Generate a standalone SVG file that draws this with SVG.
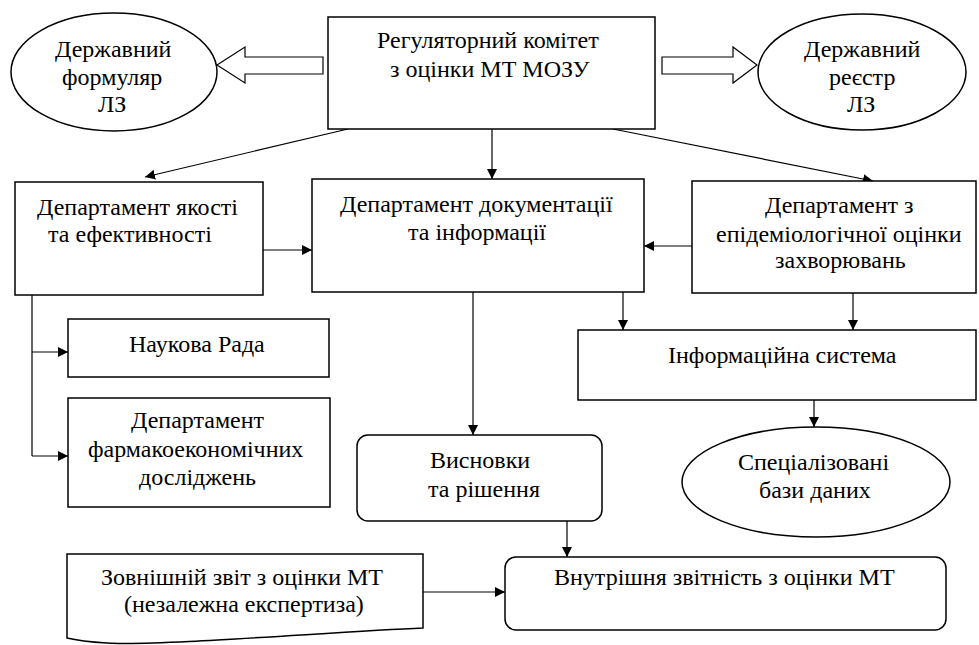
<svg xmlns="http://www.w3.org/2000/svg" width="979" height="645" viewBox="0 0 979 645">
<defs>
<marker id="ah" viewBox="0 0 10 10" refX="10" refY="5" markerWidth="10" markerHeight="10" markerUnits="userSpaceOnUse" orient="auto">
<path d="M0,0 L10,5 L0,10 Z" fill="#000"/>
</marker>
</defs>
<rect width="979" height="645" fill="#fff"/>
<g id="connectors" stroke="#000" stroke-width="1.2" fill="none">
<polygon fill="#fff" points="323,57 245,57 245,47 217,65 245,83 245,74 323,74"/>
<polygon fill="#fff" points="662,57 733,57 733,47 757,65 733,83 733,74 662,74"/>
<line marker-end="url(#ah)" x1="348" y1="129" x2="145" y2="177"/>
<line marker-end="url(#ah)" x1="492" y1="129" x2="492" y2="179"/>
<line marker-end="url(#ah)" x1="613" y1="129" x2="873" y2="181"/>
<line marker-end="url(#ah)" x1="263" y1="250" x2="312" y2="250"/>
<line marker-end="url(#ah)" x1="692" y1="246" x2="644" y2="246"/>
<line marker-end="url(#ah)" x1="623" y1="292" x2="623" y2="330"/>
<line marker-end="url(#ah)" x1="853" y1="293" x2="853" y2="330"/>
<line marker-end="url(#ah)" x1="814" y1="400" x2="814" y2="427"/>
<polyline points="32,295 32,456"/>
<line marker-end="url(#ah)" x1="32" y1="352" x2="68" y2="352"/>
<line marker-end="url(#ah)" x1="32" y1="456" x2="68" y2="456"/>
<line marker-end="url(#ah)" x1="473" y1="292" x2="473" y2="435"/>
<line marker-end="url(#ah)" x1="567" y1="521" x2="567" y2="557"/>
<line marker-end="url(#ah)" x1="423" y1="592" x2="505" y2="592"/>
</g>
<g id="regulator">
<rect fill="#fff" stroke="#000" stroke-width="1.5" x="328" y="17" width="327" height="112"/>
<text x="377" y="48" style="font-family:'Liberation Serif',serif;font-size:24px">Регуляторний комітет</text>
<text x="390" y="77" style="font-family:'Liberation Serif',serif;font-size:24px">з оцінки МТ МОЗУ</text>
</g>
<g id="formulary">
<ellipse fill="#fff" stroke="#000" stroke-width="1.5" cx="114" cy="72" rx="103" ry="59"/>
<text x="55" y="57" style="font-family:'Liberation Serif',serif;font-size:24px">Державний</text>
<text x="62" y="85" style="font-family:'Liberation Serif',serif;font-size:24px">формуляр</text>
<text x="98" y="112" style="font-family:'Liberation Serif',serif;font-size:24px">ЛЗ</text>
</g>
<g id="registry">
<ellipse fill="#fff" stroke="#000" stroke-width="1.5" cx="862" cy="72" rx="104" ry="58"/>
<text x="804" y="57" style="font-family:'Liberation Serif',serif;font-size:24px">Державний</text>
<text x="829" y="85" style="font-family:'Liberation Serif',serif;font-size:24px">реєстр</text>
<text x="847" y="112" style="font-family:'Liberation Serif',serif;font-size:24px">ЛЗ</text>
</g>
<g id="quality">
<rect fill="#fff" stroke="#000" stroke-width="1.5" x="15" y="182" width="248" height="113"/>
<text x="37" y="215" style="font-family:'Liberation Serif',serif;font-size:24px">Департамент якості</text>
<text x="48" y="242" style="font-family:'Liberation Serif',serif;font-size:24px">та ефективності</text>
</g>
<g id="documentation">
<rect fill="#fff" stroke="#000" stroke-width="1.5" x="312" y="179" width="332" height="113"/>
<text x="340" y="212" style="font-family:'Liberation Serif',serif;font-size:24px">Департамент документації</text>
<text x="408" y="240" style="font-family:'Liberation Serif',serif;font-size:24px">та інформації</text>
</g>
<g id="epidemiology">
<rect fill="#fff" stroke="#000" stroke-width="1.5" x="692" y="181" width="284" height="112"/>
<text x="765" y="213" style="font-family:'Liberation Serif',serif;font-size:24px">Департамент з</text>
<text x="716" y="242" style="font-family:'Liberation Serif',serif;font-size:24px">епідеміологічної оцінки</text>
<text x="775" y="268" style="font-family:'Liberation Serif',serif;font-size:24px">захворювань</text>
</g>
<g id="council">
<rect fill="#fff" stroke="#000" stroke-width="1.5" x="68" y="319" width="261" height="58"/>
<text x="129" y="352" style="font-family:'Liberation Serif',serif;font-size:24px">Наукова Рада</text>
</g>
<g id="pharmacoeconomics">
<rect fill="#fff" stroke="#000" stroke-width="1.5" x="68" y="398" width="262" height="109"/>
<text x="131" y="428" style="font-family:'Liberation Serif',serif;font-size:24px">Департамент</text>
<text x="88" y="457" style="font-family:'Liberation Serif',serif;font-size:24px">фармакоекономічних</text>
<text x="139" y="485" style="font-family:'Liberation Serif',serif;font-size:24px">досліджень</text>
</g>
<g id="infosystem">
<rect fill="#fff" stroke="#000" stroke-width="1.5" x="578" y="330" width="398" height="70"/>
<text x="668" y="363" style="font-family:'Liberation Serif',serif;font-size:24px">Інформаційна система</text>
</g>
<g id="databases">
<ellipse fill="#fff" stroke="#000" stroke-width="1.5" cx="816" cy="482" rx="134" ry="55"/>
<text x="738" y="470" style="font-family:'Liberation Serif',serif;font-size:24px">Спеціалізовані</text>
<text x="759" y="498" style="font-family:'Liberation Serif',serif;font-size:24px">бази даних</text>
</g>
<g id="conclusions">
<rect fill="#fff" stroke="#000" stroke-width="1.5" x="357" y="435" width="245" height="86" rx="11"/>
<text x="430" y="468" style="font-family:'Liberation Serif',serif;font-size:24px">Висновки</text>
<text x="428" y="497" style="font-family:'Liberation Serif',serif;font-size:24px">та рішення</text>
</g>
<g id="external">
<path fill="#fff" stroke="#000" stroke-width="1.5" d="M67,554 L423,554 L423,628 C330,632 160,646 107,643 C90,642 75,640 67,638 Z"/>
<text x="101" y="585" style="font-family:'Liberation Serif',serif;font-size:24px">Зовнішній звіт з оцінки МТ</text>
<text x="124" y="612" style="font-family:'Liberation Serif',serif;font-size:24px">(незалежна експертиза)</text>
</g>
<g id="internal">
<rect fill="#fff" stroke="#000" stroke-width="1.5" x="505" y="557" width="441" height="73" rx="11"/>
<text x="554" y="585" style="font-family:'Liberation Serif',serif;font-size:24px">Внутрішня звітність з оцінки МТ</text>
</g>
</svg>
